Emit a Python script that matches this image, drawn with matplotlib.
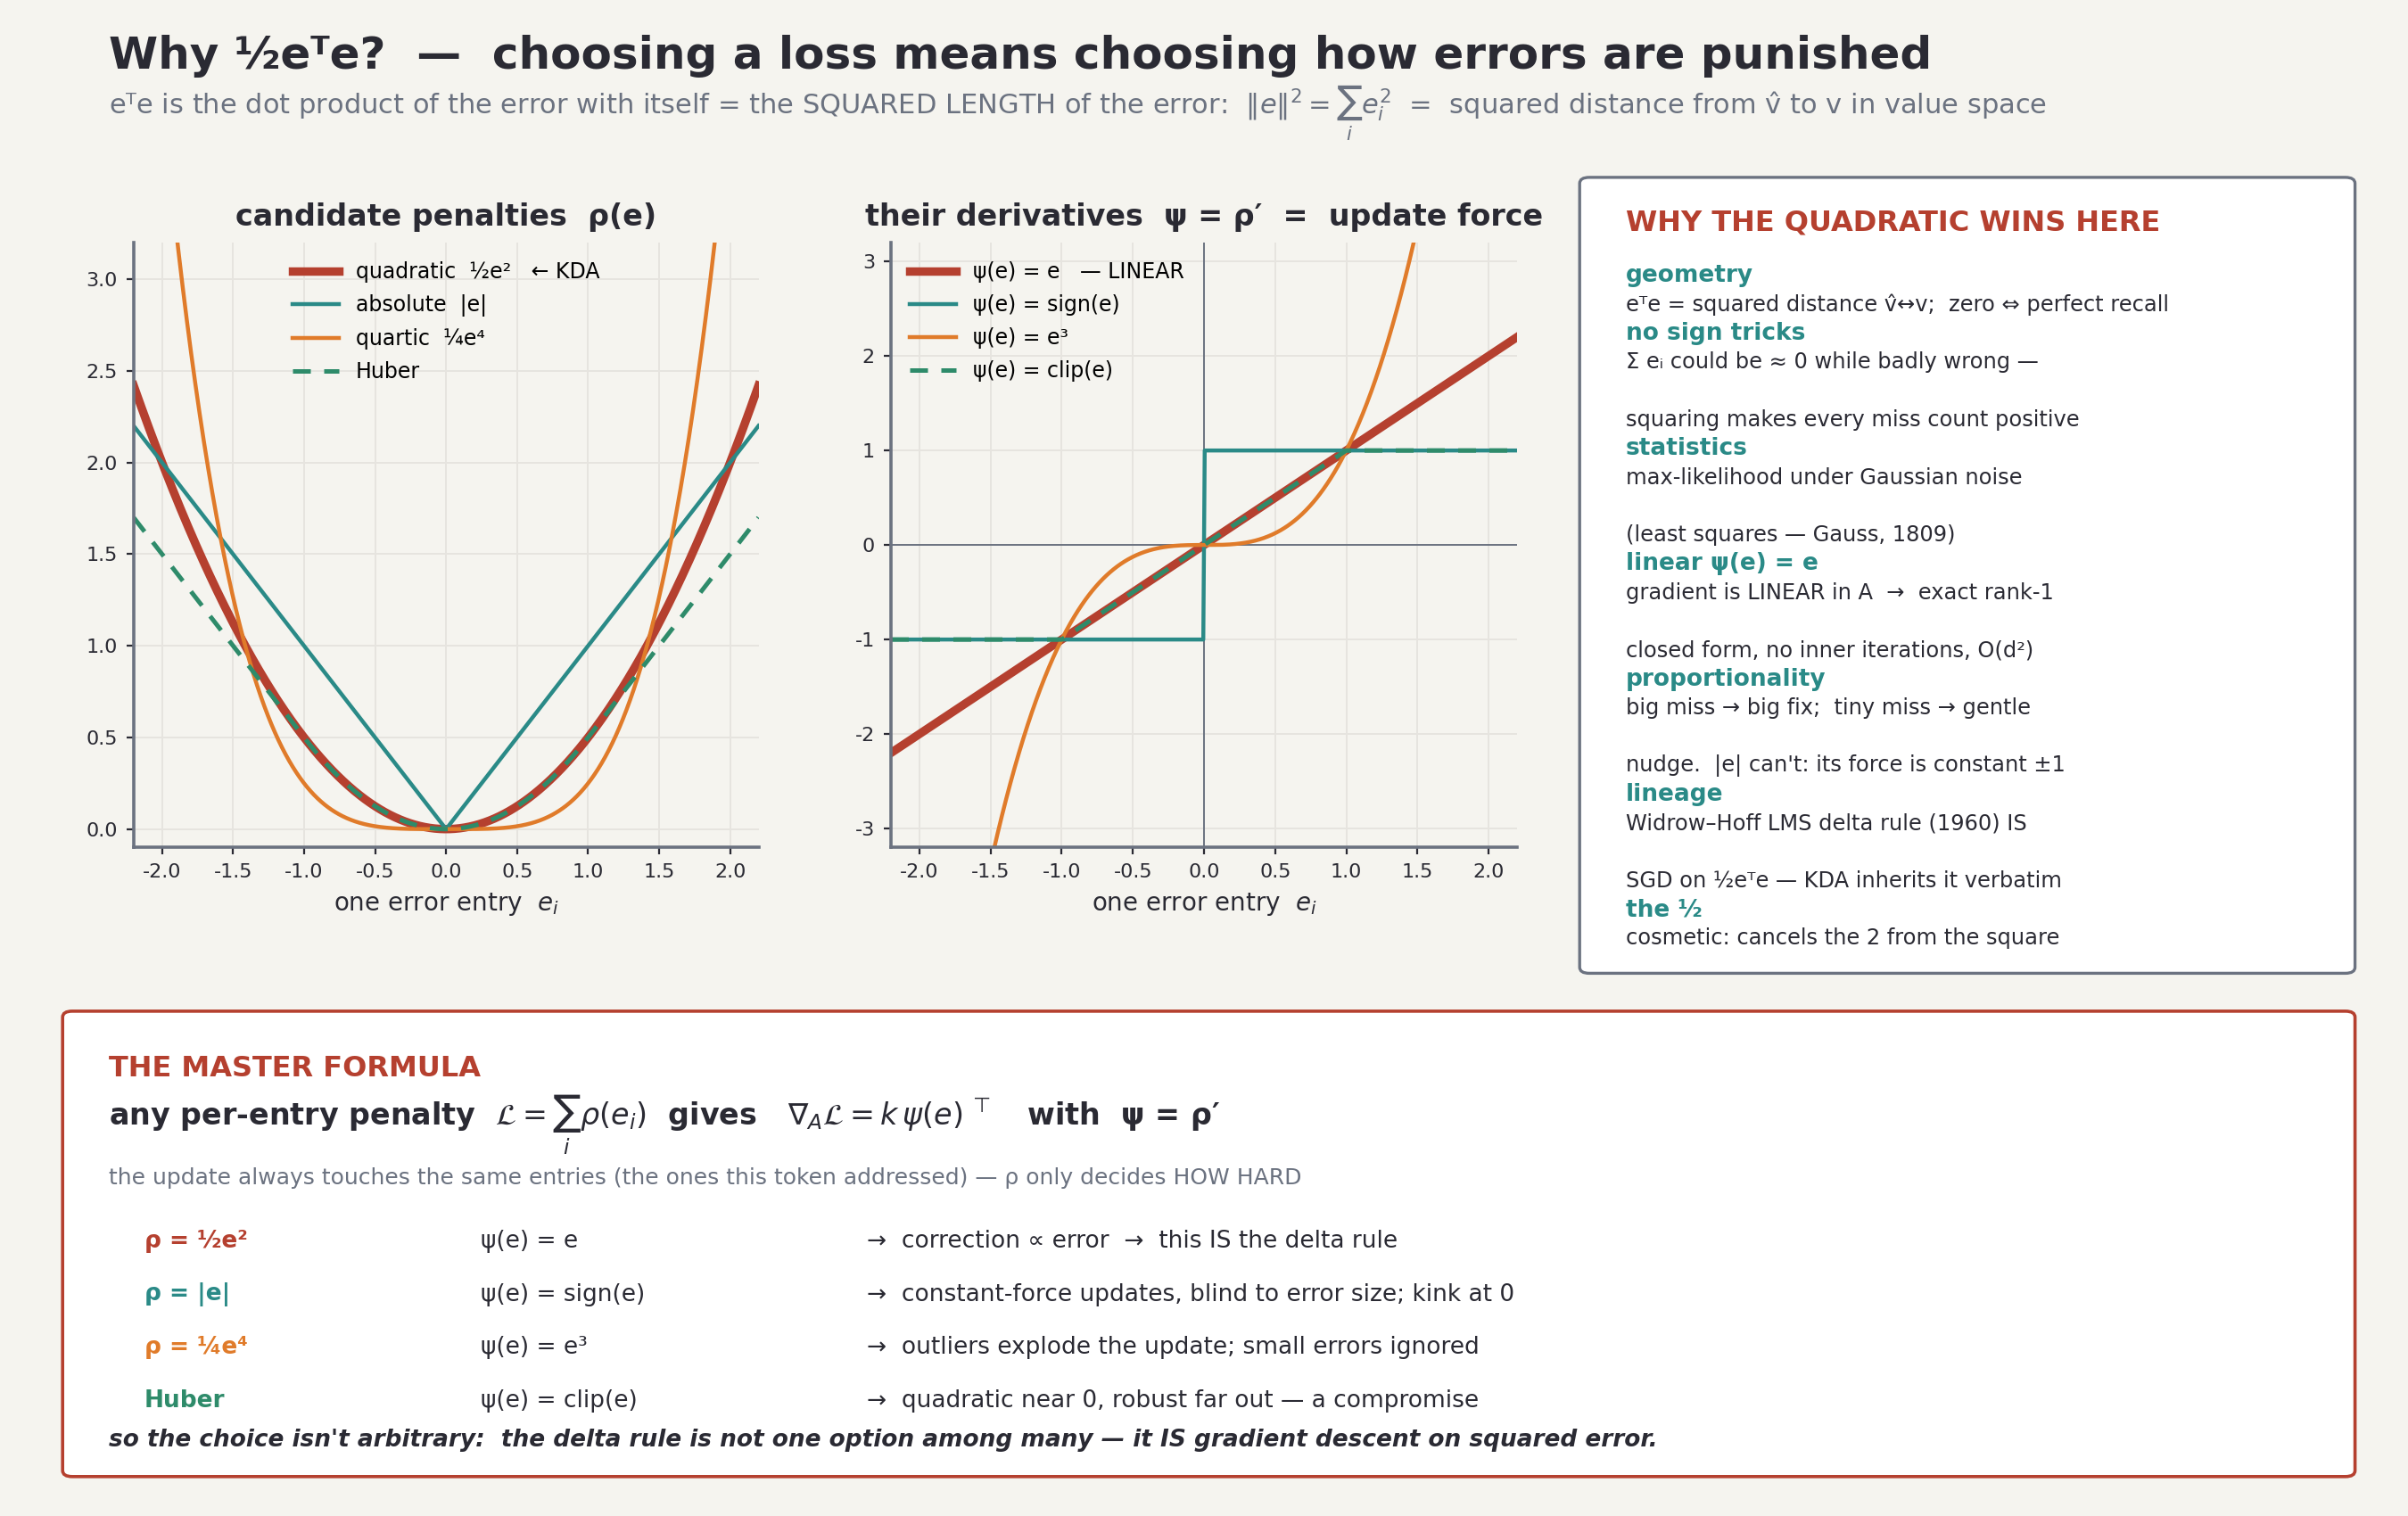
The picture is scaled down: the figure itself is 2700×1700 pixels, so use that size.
import numpy as np
import matplotlib
matplotlib.use("Agg")
from matplotlib import pyplot as plt
from matplotlib.patches import FancyBboxPatch

# colours
BG = "#f5f4ef"
INK = "#2a2a33"
GREY = "#6b7280"
RED = "#b5402f"
TEAL = "#2a8a87"
ORANGE = "#e07b2a"
GREEN = "#2e8b6a"

plt.rcParams['font.family'] = ['DejaVu Sans']
plt.rcParams['axes.unicode_minus'] = False

# data: the error axis and the four penalties / their derivatives
e_min, e_max = -2.2, 2.2
huber_delta = 1.0
e = np.linspace(e_min, e_max, 881)

rho_quad = 0.5 * e**2
rho_abs = np.abs(e)
rho_quart = 0.25 * e**4
rho_huber = np.where(np.abs(e) <= huber_delta, 0.5 * e**2,
                     huber_delta * (np.abs(e) - 0.5 * huber_delta))

psi_lin = e
psi_sign = np.sign(e)
psi_cube = e**3
psi_clip = np.clip(e, -huber_delta, huber_delta)

rho_labels = ["quadratic  ½e²   ← KDA", "absolute  |e|", "quartic  ¼e⁴", "Huber"]
psi_labels = ["ψ(e) = e   — LINEAR", "ψ(e) = sign(e)", "ψ(e) = e³", "ψ(e) = clip(e)"]

x_ticks = [-2.0, -1.5, -1.0, -0.5, 0.0, 0.5, 1.0, 1.5, 2.0]
rho_ticks = [0.0, 0.5, 1.0, 1.5, 2.0, 2.5, 3.0]
psi_ticks = [-3, -2, -1, 0, 1, 2, 3]

# right-hand notes
why_title = "WHY THE QUADRATIC WINS HERE"
why_heads = ["geometry", "no sign tricks", "statistics", "linear ψ(e) = e",
             "proportionality", "lineage", "the ½"]
why_bodies = [
    ["eᵀe = squared distance v̂↔v;  zero ⇔ perfect recall"],
    ["Σ eᵢ could be ≈ 0 while badly wrong —", "", "squaring makes every miss count positive"],
    ["max-likelihood under Gaussian noise", "", "(least squares — Gauss, 1809)"],
    ["gradient is LINEAR in A  →  exact rank-1", "", "closed form, no inner iterations, O(d²)"],
    ["big miss → big fix;  tiny miss → gentle", "", "nudge.  |e| can't: its force is constant ±1"],
    ["Widrow–Hoff LMS delta rule (1960) IS", "", "SGD on ½eᵀe — KDA inherits it verbatim"],
    ["cosmetic: cancels the 2 from the square"],
]

# master formula table
row_names = ["ρ = ½e²", "ρ = |e|", "ρ = ¼e⁴", "Huber"]
row_psi = ["ψ(e) = e", "ψ(e) = sign(e)", "ψ(e) = e³", "ψ(e) = clip(e)"]
row_notes = ["→  correction ∝ error  →  this IS the delta rule",
             "→  constant-force updates, blind to error size; kink at 0",
             "→  outliers explode the update; small errors ignored",
             "→  quadratic near 0, robust far out — a compromise"]
row_colors = [RED, TEAL, ORANGE, GREEN]

# ------------------------------------------------------------------
fig = plt.figure(figsize=(13.5, 8.5), dpi=200, facecolor=BG)

fig.text(0.045, 0.963, "Why ½eᵀe?  —  choosing a loss means choosing how errors are punished",
         fontsize=18, fontweight='bold', color=INK, va='center')
fig.text(0.045, 0.925,
         r"eᵀe is the dot product of the error with itself = the SQUARED LENGTH of the error:  "
         r"$\|e\|^2 = \sum_i e_i^2$  =  squared distance from v̂ to v in value space",
         fontsize=11, color=GREY, va='baseline')


def style_axes(ax):
    ax.set_facecolor(BG)
    for s in ['top', 'right']:
        ax.spines[s].set_visible(False)
    for s in ['left', 'bottom']:
        ax.spines[s].set_color(GREY)
        ax.spines[s].set_linewidth(1.3)
    ax.grid(True, color="#e6e4df", lw=0.7)
    ax.set_axisbelow(True)
    ax.tick_params(labelsize=8, colors=INK, length=3)
    ax.set_xlim(e_min, e_max)
    ax.set_xticks(x_ticks)
    ax.set_xticklabels([f"{t:.1f}" for t in x_ticks])
    ax.set_xlabel("one error entry  $e_i$", fontsize=10, color=INK)


# left: penalties
ax1 = fig.add_axes([0.0555, 0.441, 0.2595, 0.399])
style_axes(ax1)
ax1.plot(e, rho_quad, color=RED, lw=3.4, label=rho_labels[0])
ax1.plot(e, rho_abs, color=TEAL, lw=1.6, label=rho_labels[1])
ax1.plot(e, rho_quart, color=ORANGE, lw=1.6, label=rho_labels[2])
ax1.plot(e, rho_huber, color=GREEN, lw=1.8, ls=(0, (4, 3)), label=rho_labels[3])
ax1.set_ylim(-0.1, 3.2)
ax1.set_yticks(rho_ticks)
ax1.set_yticklabels([f"{t:.1f}" for t in rho_ticks])
ax1.set_title("candidate penalties  ρ(e)", fontsize=12, fontweight='bold', color=INK, pad=7)
ax1.legend(loc='upper center', frameon=False, fontsize=8.5, handlelength=2.2,
           borderaxespad=0.5, labelspacing=0.55)

# middle: derivatives
ax2 = fig.add_axes([0.370, 0.441, 0.260, 0.399])
style_axes(ax2)
ax2.axhline(0, color=GREY, lw=0.7)
ax2.axvline(0, color=GREY, lw=0.7)
ax2.plot(e, psi_lin, color=RED, lw=3.4, label=psi_labels[0])
ax2.plot(e, psi_sign, color=TEAL, lw=1.6, label=psi_labels[1])
ax2.plot(e, psi_cube, color=ORANGE, lw=1.6, label=psi_labels[2])
ax2.plot(e, psi_clip, color=GREEN, lw=1.8, ls=(0, (4, 3)), label=psi_labels[3])
ax2.set_ylim(-3.2, 3.2)
ax2.set_yticks(psi_ticks)
ax2.set_title("their derivatives  ψ = ρ′  =  update force", fontsize=12,
              fontweight='bold', color=INK, pad=7)
ax2.legend(loc='upper left', frameon=False, fontsize=8.5, handlelength=2.2,
           borderaxespad=0.5, labelspacing=0.55)

# right box
fig.add_artist(FancyBboxPatch((0.656, 0.358), 0.322, 0.525, transform=fig.transFigure,
                              boxstyle="round,pad=0,rounding_size=0.004",
                              facecolor="white", edgecolor=GREY, lw=1.2))
fig.text(0.675, 0.853, why_title, fontsize=11.5, fontweight='bold', color=RED, va='center')
step = 0.0190
y = 0.818
for head, body in zip(why_heads, why_bodies):
    fig.text(0.675, y, head, fontsize=9.5, fontweight='bold', color=TEAL, va='center')
    y -= step
    for line in body:
        if line:
            fig.text(0.675, y, line, fontsize=8.7, color=INK, va='center')
        y -= step

# bottom box
fig.add_artist(FancyBboxPatch((0.026, 0.026), 0.952, 0.307, transform=fig.transFigure,
                              boxstyle="round,pad=0,rounding_size=0.004",
                              facecolor="white", edgecolor=RED, lw=1.3))
fig.text(0.045, 0.295, "THE MASTER FORMULA", fontsize=11.5, fontweight='bold', color=RED, va='center')
fig.text(0.045, 0.258,
         r"any per-entry penalty  $\mathcal{L} = \sum_i \rho(e_i)$  gives   "
         r"$\nabla_A \mathcal{L} = k\,\psi(e)\,{}^{\top}$   with  ψ = ρ′",
         fontsize=12, fontweight='bold', color=INK, va='center')
fig.text(0.045, 0.223,
         "the update always touches the same entries (the ones this token addressed) — ρ only decides HOW HARD",
         fontsize=9, color=GREY, va='center')
row_y = [0.181, 0.146, 0.111, 0.076]
for name, psi, note, col, yy in zip(row_names, row_psi, row_notes, row_colors, row_y):
    fig.text(0.060, yy, name, fontsize=9.5, fontweight='bold', color=col, va='center')
    fig.text(0.1996, yy, psi, fontsize=9.5, color=INK, va='center')
    fig.text(0.360, yy, note, fontsize=9.5, color=INK, va='center')
fig.text(0.045, 0.050,
         "so the choice isn't arbitrary:  the delta rule is not one option among many — it IS gradient descent on squared error.",
         fontsize=9.5, fontweight='bold', style='italic', color=INK, va='center')

fig.savefig("out.png", dpi=200, facecolor=BG)
